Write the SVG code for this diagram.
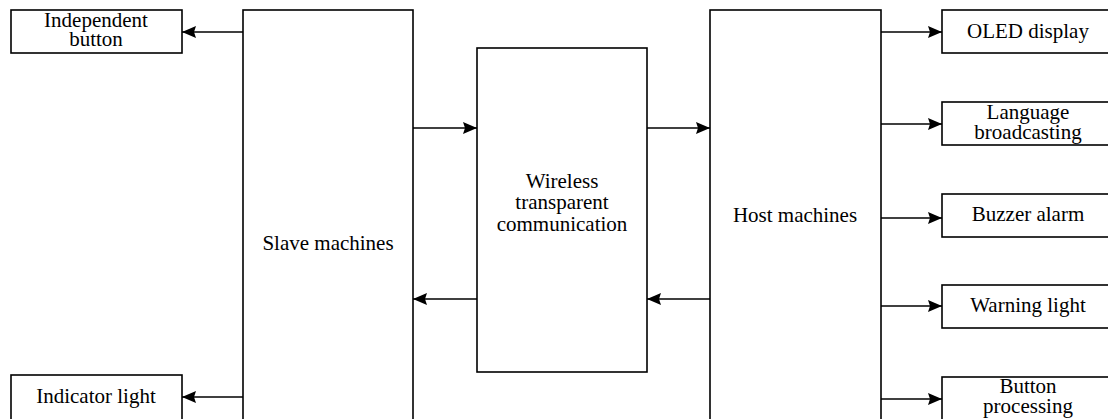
<svg xmlns="http://www.w3.org/2000/svg" width="1108" height="419" viewBox="0 0 1108 419">
  <defs>
    <marker id="arrow" viewBox="0 0 14 12" refX="14" refY="6" markerWidth="14" markerHeight="12" markerUnits="userSpaceOnUse" orient="auto">
      <path d="M0,0 L14,6 L0,12 L2,6 Z" fill="#000"/>
    </marker>
    <style>
      .box { fill: #fff; stroke: #000; stroke-width: 1.6; }
      .lbl { font-family: "Liberation Serif", "Times New Roman", serif; font-size: 21px; fill: #000; text-anchor: middle; }
      .link { stroke: #000; stroke-width: 1.6; fill: none; marker-end: url(#arrow); }
    </style>
  </defs>
  <rect width="1108" height="419" fill="#fff"/>

  <!-- left peripherals -->
  <g id="independent-button">
    <rect class="box" x="11" y="10" width="171" height="43"/>
    <text class="lbl" x="96" y="27">Independent</text>
    <text class="lbl" x="96" y="46">button</text>
  </g>
  <g id="indicator-light">
    <rect class="box" x="11" y="375" width="171" height="50"/>
    <text class="lbl" x="96" y="403">Indicator light</text>
  </g>

  <!-- main units -->
  <g id="slave-machines">
    <rect class="box" x="243" y="10" width="170" height="420"/>
    <text class="lbl" x="328" y="250">Slave machines</text>
  </g>
  <g id="wireless">
    <rect class="box" x="477" y="48" width="170" height="324"/>
    <text class="lbl" x="562" y="188">Wireless</text>
    <text class="lbl" x="562" y="209">transparent</text>
    <text class="lbl" x="562" y="231">communication</text>
  </g>
  <g id="host-machines">
    <rect class="box" x="710" y="10" width="171" height="420"/>
    <text class="lbl" x="795" y="222">Host machines</text>
  </g>

  <!-- right peripherals -->
  <g id="oled-display">
    <rect class="box" x="942" y="10" width="171" height="43"/>
    <text class="lbl" x="1028" y="38">OLED display</text>
  </g>
  <g id="language-broadcasting">
    <rect class="box" x="942" y="102" width="171" height="43"/>
    <text class="lbl" x="1028" y="119">Language</text>
    <text class="lbl" x="1028" y="139">broadcasting</text>
  </g>
  <g id="buzzer-alarm">
    <rect class="box" x="942" y="194" width="171" height="43"/>
    <text class="lbl" x="1028" y="221">Buzzer alarm</text>
  </g>
  <g id="warning-light">
    <rect class="box" x="942" y="285" width="171" height="43"/>
    <text class="lbl" x="1028" y="312">Warning light</text>
  </g>
  <g id="button-processing">
    <rect class="box" x="942" y="377" width="171" height="50"/>
    <text class="lbl" x="1028" y="393">Button</text>
    <text class="lbl" x="1028" y="413">processing</text>
  </g>

  <!-- connectors -->
  <g id="connectors">
    <line class="link" x1="243" y1="32" x2="182" y2="32"/>
    <line class="link" x1="243" y1="397" x2="182" y2="397"/>
    <line class="link" x1="413" y1="128" x2="477" y2="128"/>
    <line class="link" x1="477" y1="299" x2="413" y2="299"/>
    <line class="link" x1="647" y1="128" x2="710" y2="128"/>
    <line class="link" x1="710" y1="299" x2="647" y2="299"/>
    <line class="link" x1="881" y1="32" x2="942" y2="32"/>
    <line class="link" x1="881" y1="124" x2="942" y2="124"/>
    <line class="link" x1="881" y1="218" x2="942" y2="218"/>
    <line class="link" x1="881" y1="306" x2="942" y2="306"/>
    <line class="link" x1="881" y1="399" x2="942" y2="399"/>
  </g>
</svg>
